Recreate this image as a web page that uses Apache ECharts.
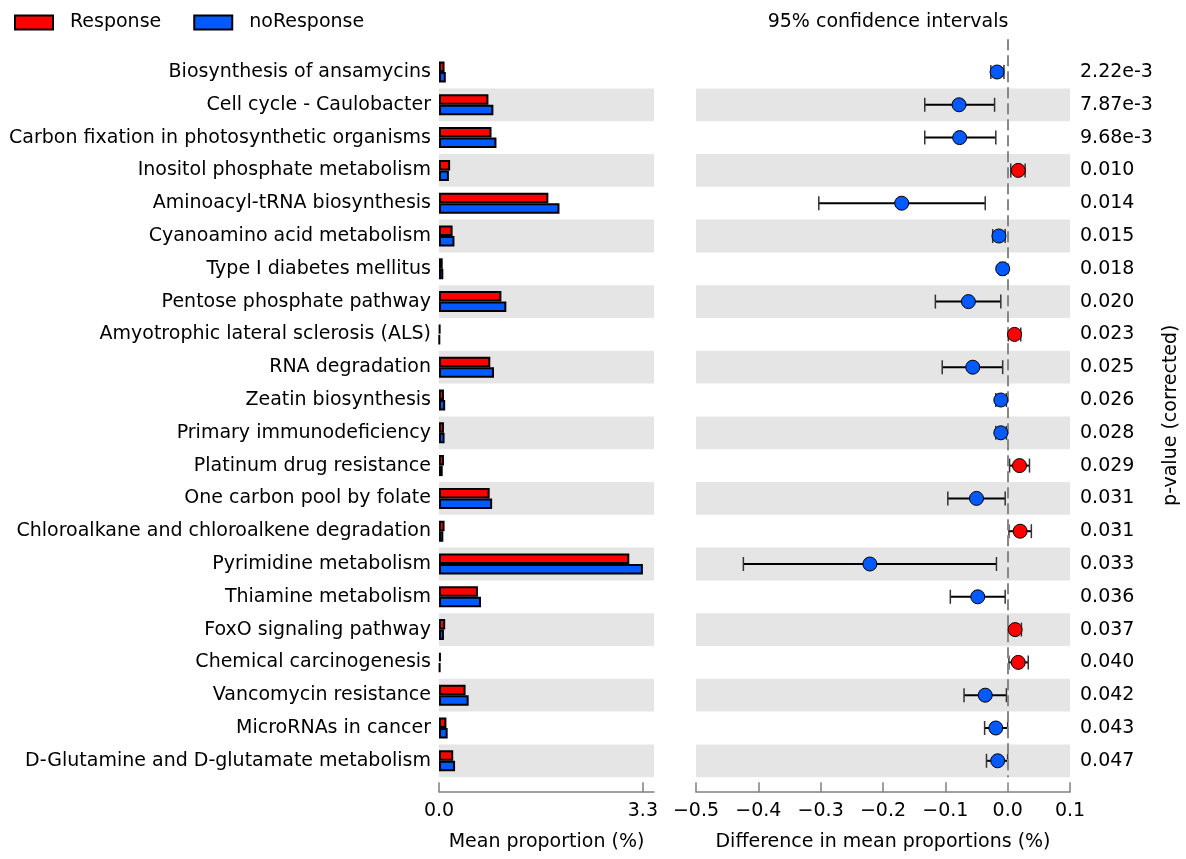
<!DOCTYPE html>
<html>
<head>
<meta charset="utf-8">
<script src="https://cdn.jsdelivr.net/npm/echarts@6/dist/echarts.min.js"></script>
<style>
html,body{margin:0;padding:0;background:#fff;}
#chart{width:1186px;height:859px;}
</style>
</head>
<body>
<div id="chart"></div>
<script>
const categories = [
  'Biosynthesis of ansamycins',
  'Cell cycle - Caulobacter',
  'Carbon fixation in photosynthetic organisms',
  'Inositol phosphate metabolism',
  'Aminoacyl-tRNA biosynthesis',
  'Cyanoamino acid metabolism',
  'Type I diabetes mellitus',
  'Pentose phosphate pathway',
  'Amyotrophic lateral sclerosis (ALS)',
  'RNA degradation',
  'Zeatin biosynthesis',
  'Primary immunodeficiency',
  'Platinum drug resistance',
  'One carbon pool by folate',
  'Chloroalkane and chloroalkene degradation',
  'Pyrimidine metabolism',
  'Thiamine metabolism',
  'FoxO signaling pathway',
  'Chemical carcinogenesis',
  'Vancomycin resistance',
  'MicroRNAs in cancer',
  'D-Glutamine and D-glutamate metabolism'
];
const response   = [0.09, 0.80, 0.85, 0.18, 1.77, 0.22, 0.06, 1.01, 0.02, 0.83, 0.08, 0.08, 0.08, 0.82, 0.09, 3.08, 0.63, 0.10, 0.03, 0.43, 0.12, 0.23];
const noResponse = [0.11, 0.88, 0.93, 0.16, 1.95, 0.25, 0.07, 1.09, 0.01, 0.89, 0.10, 0.09, 0.06, 0.86, 0.07, 3.30, 0.68, 0.08, 0.02, 0.48, 0.14, 0.26];
const diffMean = [-0.017, -0.078, -0.077, 0.017, -0.170, -0.014, -0.008, -0.063, 0.011, -0.056, -0.011, -0.011, 0.019, -0.050, 0.020, -0.221, -0.048, 0.012, 0.017, -0.036, -0.019, -0.016];
const ciLow    = [-0.027, -0.133, -0.133, 0.005, -0.303, -0.024, -0.012, -0.116, 0.001, -0.105, -0.019, -0.019, 0.003, -0.096, 0.002, -0.424, -0.092, 0.001, 0.002, -0.070, -0.037, -0.034];
const ciHigh   = [-0.006, -0.021, -0.019, 0.028, -0.036, -0.004, -0.004, -0.011, 0.021, -0.008, -0.002, -0.002, 0.035, -0.004, 0.038, -0.018, -0.004, 0.022, 0.033, -0.002, 0.000, 0.000];
const pValues  = ['2.22e-3', '7.87e-3', '9.68e-3', '0.010', '0.014', '0.015', '0.018', '0.020', '0.023', '0.025', '0.026', '0.028', '0.029', '0.031', '0.031', '0.033', '0.036', '0.037', '0.040', '0.042', '0.043', '0.047'];
const leftTicks = [0, 3.3];

const RED = '#ff0000', BLUE = '#005aff', FONT = 'DejaVu Sans', FS = 19;
const rowIdx = categories.map((c, i) => i);

const bandAreas = rowIdx.filter(i => i % 2 === 1).map(i => [{yAxis: i - 0.5}, {yAxis: i + 0.5}]);
const pointData = diffMean.map((d, i) => ({value: [d, i], itemStyle: {color: d > 0 ? RED : BLUE}}));
const ciData = rowIdx.map(i => [ciLow[i], ciHigh[i], i]);

const axisLineStyle = {color: '#808080', width: 1.5};

const chart = echarts.init(document.getElementById('chart'));
chart.setOption({
  animation: false,
  textStyle: {fontFamily: FONT},
  title: {
    text: '95% confidence intervals',
    left: 883, top: 8, textAlign: 'center',
    textStyle: {fontFamily: FONT, fontSize: FS, fontWeight: 'normal', color: '#000'}
  },
  legend: {
    left: 9, top: 8,
    itemWidth: 38, itemHeight: 14, itemGap: 32,
    icon: 'rect',
    itemStyle: {borderColor: '#000', borderWidth: 2},
    textStyle: {fontFamily: FONT, fontSize: FS, color: '#000', padding: [0, 0, 0, 12]},
    data: ['Response', 'noResponse']
  },
  grid: [
    {left: 439, right: 532, top: 55.6, height: 721.6},
    {left: 696, right: 116, top: 39.2, height: 738}
  ],
  xAxis: [
    {
      gridIndex: 0, type: 'value', min: 0, max: 3.48,
      offset: 15,
      axisLine: {show: true, onZero: false, lineStyle: axisLineStyle},
      axisTick: {show: true, inside: true, length: 10, lineStyle: axisLineStyle, customValues: leftTicks},
      axisLabel: {customValues: leftTicks, formatter: v => v.toFixed(1), fontFamily: FONT, fontSize: FS, color: '#000', margin: 9},
      splitLine: {show: false},
      name: 'Mean proportion (%)', nameLocation: 'middle', nameGap: 40,
      nameTextStyle: {fontFamily: FONT, fontSize: FS, color: '#000'}
    },
    {
      gridIndex: 1, type: 'value', min: -0.5, max: 0.1, interval: 0.1,
      offset: 15,
      axisLine: {show: true, onZero: false, lineStyle: axisLineStyle},
      axisTick: {show: true, inside: true, length: 10, lineStyle: axisLineStyle},
      axisLabel: {
        fontFamily: FONT, fontSize: FS, color: '#000', margin: 9,
        formatter: v => (v < -1e-9 ? '\u2212' : '') + Math.abs(v).toFixed(1)
      },
      splitLine: {show: false},
      name: 'Difference in mean proportions (%)', nameLocation: 'middle', nameGap: 40,
      nameTextStyle: {fontFamily: FONT, fontSize: FS, color: '#000'}
    }
  ],
  yAxis: [
    {
      gridIndex: 0, type: 'category', data: categories, inverse: true,
      axisLine: {show: false}, axisTick: {show: false},
      axisLabel: {fontFamily: FONT, fontSize: FS, color: '#000', margin: 8},
      splitLine: {show: false},
      splitArea: {show: true, areaStyle: {color: ['rgba(0,0,0,0)', '#e5e5e5']}}
    },
    {
      gridIndex: 1, type: 'value', min: -1, max: 21.5, inverse: true, position: 'right',
      axisLine: {show: false}, axisTick: {show: false},
      splitLine: {show: false},
      axisLabel: {
        customValues: rowIdx, formatter: v => pValues[Math.round(v)],
        fontFamily: FONT, fontSize: FS, color: '#000', margin: 10
      },
      name: 'p-value (corrected)', nameLocation: 'middle', nameRotate: 90, nameGap: 92,
      nameTextStyle: {fontFamily: FONT, fontSize: FS, color: '#000', padding: [0, 14, 0, 0]}
    }
  ],
  series: [
    {
      name: 'Response', type: 'bar', xAxisIndex: 0, yAxisIndex: 0,
      data: response, barWidth: 10.5, barGap: '0%',
      itemStyle: {color: RED, borderColor: '#000', borderWidth: 2}
    },
    {
      name: 'noResponse', type: 'bar', xAxisIndex: 0, yAxisIndex: 0,
      data: noResponse, barWidth: 10.5, barGap: '0%',
      itemStyle: {color: BLUE, borderColor: '#000', borderWidth: 2}
    },
    {
      name: 'ci', type: 'custom', xAxisIndex: 1, yAxisIndex: 1,
      data: ciData, encode: {x: [0, 1], y: 2}, z: 3, silent: true,
      renderItem: function (params, api) {
        const lo = api.coord([api.value(0), api.value(2)]);
        const hi = api.coord([api.value(1), api.value(2)]);
        const h = 7;
        return {
          type: 'group',
          children: [
            {type: 'line', shape: {x1: lo[0], y1: lo[1], x2: hi[0], y2: hi[1]}, style: {stroke: '#000', lineWidth: 2}},
            {type: 'line', shape: {x1: lo[0], y1: lo[1] - h, x2: lo[0], y2: lo[1] + h}, style: {stroke: '#333', lineWidth: 1.5}},
            {type: 'line', shape: {x1: hi[0], y1: hi[1] - h, x2: hi[0], y2: hi[1] + h}, style: {stroke: '#333', lineWidth: 1.5}}
          ]
        };
      },
      markArea: {
        silent: true,
        itemStyle: {color: '#e5e5e5'},
        data: bandAreas
      }
    },
    {
      name: 'diff', type: 'scatter', xAxisIndex: 1, yAxisIndex: 1,
      data: pointData, symbol: 'circle', symbolSize: 14, z: 5,
      itemStyle: {borderColor: '#000', borderWidth: 1, opacity: 1},
      markLine: {
        silent: true, symbol: 'none', label: {show: false},
        lineStyle: {color: '#888', width: 2, type: [11, 5]},
        data: [{xAxis: 0}]
      }
    }
  ]
});
</script>
</body>
</html>
